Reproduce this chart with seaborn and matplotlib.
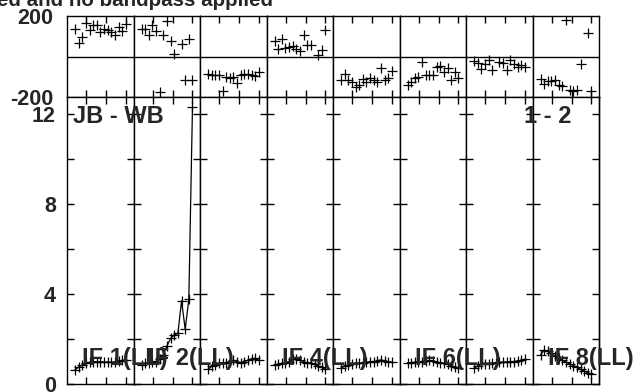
import numpy as np
import pandas as pd
import matplotlib
matplotlib.use("Agg")
import matplotlib.pyplot as plt
import seaborn as sns

# channel numbers inside each IF panel
channels = list(range(1, 16))
if_names = ["IF 1(LL)", "IF 2(LL)", "IF 3(LL)", "IF 4(LL)",
            "IF 5(LL)", "IF 6(LL)", "IF 7(LL)", "IF 8(LL)"]
if_shown = [True, True, False, True, False, True, False, True]

# phase (degrees)
phase_if1 = [134, 67, 96, 167, 129, 154, 157, 121, 137, 132, 121, 108, 146, 124, 162]
phase_if2 = [137, 134, 108, 157, 124, -175, 105, 174, 75, 14, np.nan, 60, -118, 88, -114]
phase_if3 = [-88, -93, -90, -90, -170, -101, -106, -100, -130, -92, -88, -86, -93, -96, -78]
phase_if4 = [75, 38, 85, 42, 47, 50, 38, 26, 105, 55, 55, np.nan, 6, 30, 129]
phase_if5 = [-118, -85, -118, -126, -151, -142, -110, -126, -106, -118, -126, -57, -115, -106, -73]
phase_if6 = [-141, -124, -108, -100, -26, -91, -91, -91, -50, -47, -75, -58, -116, -75, -108]
phase_if7 = [-21, -34, -63, -37, -17, -67, np.nan, -26, -34, -67, -17, -37, -50, -42, -50]
phase_if8 = [-110, -134, -121, -121, -118, -142, -146, 179, -167, -170, -167, -36, np.nan, 118, -170]

# amplitude
amp_if1 = [0.63, 0.75, 0.85, 0.92, 0.96, 1.0, 0.98, 1.0, 0.97, 0.98, 0.96, 0.98, 1.02, 1.05, 1.07]
amp_if2 = [0.84, 0.92, 0.95, 1.0, 1.0, 1.1, 1.3, 1.7, 2.03, 2.18, 2.25, 3.7, 2.44, 3.76, 12.3]
amp_if3 = [0.65, 0.78, 0.85, 0.92, 0.95, 0.95, 1.0, 1.05, 1.0, 0.95, 1.0, 1.05, 1.1, 1.15, 1.05]
amp_if4 = [0.85, 0.88, 0.92, 0.95, 1.0, 1.1, 1.12, 1.07, 1.0, 0.92, 0.95, 0.87, 0.8, 0.74, 0.65]
amp_if5 = [0.7, 0.8, 0.85, 0.89, 0.92, 0.92, 0.95, 0.96, 1.0, 1.0, 1.04, 1.07, 1.03, 1.0, 0.97]
amp_if6 = [0.95, 0.95, 0.97, 1.0, 1.0, 1.02, 1.05, 1.02, 0.98, 0.95, 0.92, 0.88, 0.82, 0.75, 0.72]
amp_if7 = [0.7, 0.8, 0.87, 0.89, 0.9, 0.92, 0.95, 0.96, 0.98, 0.98, 1.0, 1.0, 1.02, 1.05, 1.1]
amp_if8 = [1.3, 1.5, 1.45, 1.36, 1.25, 1.15, 1.05, 0.97, 0.9, 0.82, 0.75, 0.65, 0.58, 0.5, 0.44]

phases = [phase_if1, phase_if2, phase_if3, phase_if4, phase_if5, phase_if6, phase_if7, phase_if8]
amps = [amp_if1, amp_if2, amp_if3, amp_if4, amp_if5, amp_if6, amp_if7, amp_if8]

amp_ticks = [0, 2, 4, 6, 8, 10, 12]
amp_ticklabels = ["0", "", "4", "", "8", "", "12"]
chan_ticks = [4.15, 9.65, 15.0]

rows = []
for name, ph, am in zip(if_names, phases, amps):
    for c, p, a in zip(channels, ph, am):
        rows.append((name, c, p, a))
df = pd.DataFrame(rows, columns=["IF", "channel", "phase", "amp"])

sns.set_style("white")
plt.rcParams["font.family"] = ["Liberation Sans", "DejaVu Sans"]
plt.rcParams["font.weight"] = "bold"

W, H = 636, 392
fig = plt.figure(figsize=(W / 100, H / 100), dpi=100)

# panel geometry in pixels
x0, x1 = 67, 599
pw = (x1 - x0) / 8
ph_top, ph_bot, amp_bot = 16, 97, 384

for k, name in enumerate(if_names):
    left = (x0 + k * pw) / W
    axp = fig.add_axes([left, 1 - ph_bot / H, pw / W, (ph_bot - ph_top) / H])
    axa = fig.add_axes([left, 1 - amp_bot / H, pw / W, (amp_bot - ph_bot) / H])
    sub = df[df["IF"] == name]

    sns.scatterplot(data=sub, x="channel", y="phase", marker="+", color="black",
                    s=45, linewidth=0.9, ax=axp, legend=False)
    axp.axhline(0, color="black", lw=1)
    sns.lineplot(data=sub, x="channel", y="amp", marker="+", color="black",
                 lw=0.9, markersize=7, markeredgewidth=0.9,
                 markeredgecolor="black", estimator=None, ax=axa, legend=False)

    for ax in (axp, axa):
        ax.set_xlim(-1.2, 17.07)
        ax.set_xticks(chan_ticks)
        ax.set_xticklabels([])
        ax.set_xlabel("")
        ax.set_ylabel("")
        for s in ax.spines.values():
            s.set_visible(True)
            s.set_color("black")
            s.set_linewidth(1)
        ax.tick_params(axis="x", direction="in", length=5, width=1,
                       top=True, bottom=True, color="black")

    axp.set_ylim(-200, 200)
    axa.set_ylim(0, 12.76)
    axa.set_yticks(amp_ticks)

    if k == 0:
        axp.set_yticks([-200, 200])
        axp.set_yticklabels(["-200", "200"], fontsize=15.5, fontweight="bold")
        axp.tick_params(axis="y", length=0, pad=10)
        axa.set_yticklabels(amp_ticklabels, fontsize=15.5, fontweight="bold")
        axa.tick_params(axis="y", direction="in", length=5, width=1, pad=8,
                        left=True, color="black")
    else:
        axp.set_yticks([])
        axa.set_yticklabels([])
        axa.tick_params(axis="y", direction="inout", length=10, width=1,
                        left=True, color="black")
    if k == 7:
        sec = axa.secondary_yaxis("right")
        sec.set_yticks(amp_ticks)
        sec.set_yticklabels([])
        sec.tick_params(direction="in", length=5, width=1, color="black")
        sec.spines["right"].set_linewidth(1)

    if if_shown[k]:
        fig.text((x0 + k * pw + 15) / W, 1 - 365 / H, name, fontsize=17,
                 fontweight="bold", va="baseline", ha="left")

fig.text(73 / W, 1 - 123 / H, "JB - WB", fontsize=17, fontweight="bold",
         va="baseline", ha="left")
fig.text(572 / W, 1 - 123 / H, "1 - 2", fontsize=17, fontweight="bold",
         va="baseline", ha="right")
fig.text(273 / W, 1 - 6.5 / H, "ed and no bandpass applied", fontsize=14.8,
         fontweight="bold", va="baseline", ha="right")

fig.savefig("out.png", dpi=100)
